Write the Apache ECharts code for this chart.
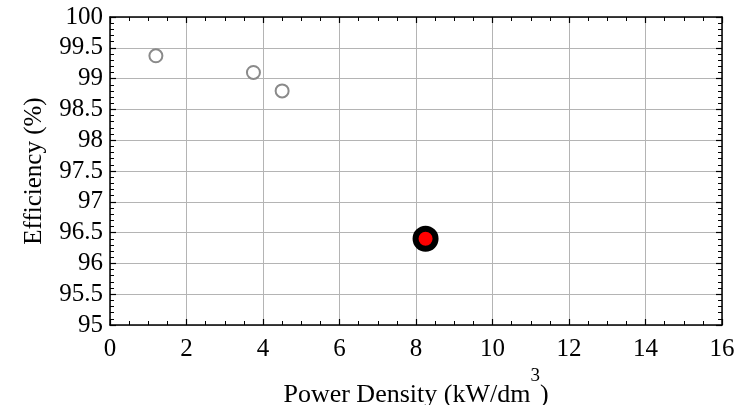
<!DOCTYPE html>
<html>
<head>
<meta charset="utf-8">
<script src="https://cdn.jsdelivr.net/npm/echarts@6/dist/echarts.min.js"></script>
<style>
  html, body { margin: 0; padding: 0; background: #fff; }
  #chart { width: 752px; height: 405px; }
</style>
</head>
<body>
<div id="chart"></div>
<script>
// Efficiency vs. power density of converter designs
const otherDesigns = [[1.2, 99.37], [3.75, 99.1], [4.5, 98.8]];
const thisDesign = [[8.25, 96.4]];
const xTicks = [0, 2, 4, 6, 8, 10, 12, 14, 16];
const yTicks = [95, 95.5, 96, 96.5, 97, 97.5, 98, 98.5, 99, 99.5, 100];

const FONT = '"Liberation Serif", "Times New Roman", serif';
const axisBase = {
  axisLine: { show: true, onZero: false, lineStyle: { color: '#000', width: 1.5 } },
  axisTick: { show: true, inside: true, length: 6, lineStyle: { color: '#000', width: 1.2 } },
  minorTick: { show: true, length: 4, lineStyle: { color: '#000', width: 1 } },
  splitLine: { show: true, lineStyle: { color: '#b4b4b4', width: 1 } },
  axisLabel: { color: '#000', fontFamily: FONT, fontSize: 25 }
};

const chart = echarts.init(document.getElementById('chart'), null, { renderer: 'canvas' });
chart.setOption({
  animation: false,
  grid: { left: 110, right: 30, top: 17, bottom: 80, containLabel: false, outerBoundsMode: 'none' },
  xAxis: [
    Object.assign({}, axisBase, {
      type: 'value', min: xTicks[0], max: xTicks[xTicks.length - 1], interval: 2,
      minorTick: Object.assign({}, axisBase.minorTick, { splitNumber: 4 }),
      axisLabel: Object.assign({}, axisBase.axisLabel, { margin: 12 }),
      name: '{t|Power Density (kW/dm}{s|3}{t|)}',
      nameLocation: 'middle', nameGap: 39,
      nameTextStyle: {
        rich: {
          t: { fontFamily: FONT, fontSize: 26, color: '#000', verticalAlign: 'bottom', lineHeight: 41 },
          s: { fontFamily: FONT, fontSize: 19, color: '#000', verticalAlign: 'top', lineHeight: 19 }
        }
      }
    }),
    Object.assign({}, axisBase, {
      type: 'value', position: 'top', min: xTicks[0], max: xTicks[xTicks.length - 1], interval: 2,
      minorTick: Object.assign({}, axisBase.minorTick, { splitNumber: 4 }),
      axisLabel: { show: false }, splitLine: { show: false }
    })
  ],
  yAxis: [
    Object.assign({}, axisBase, {
      type: 'value', min: yTicks[0], max: yTicks[yTicks.length - 1], interval: 0.5,
      minorTick: Object.assign({}, axisBase.minorTick, { splitNumber: 5 }),
      axisLabel: Object.assign({}, axisBase.axisLabel, { margin: 7 }),
      name: 'Efficiency (%)',
      nameLocation: 'middle', nameGap: 63,
      nameTextStyle: { fontFamily: FONT, fontSize: 25, color: '#000' }
    }),
    Object.assign({}, axisBase, {
      type: 'value', position: 'right', min: yTicks[0], max: yTicks[yTicks.length - 1], interval: 0.5,
      minorTick: Object.assign({}, axisBase.minorTick, { splitNumber: 5 }),
      axisLabel: { show: false }, splitLine: { show: false }
    })
  ],
  series: [
    {
      type: 'scatter', xAxisIndex: 0, yAxisIndex: 0,
      data: otherDesigns, symbol: 'circle', symbolSize: 13,
      itemStyle: { color: '#fff', borderColor: '#8a8a8a', borderWidth: 2, opacity: 1 }
    },
    {
      type: 'scatter', xAxisIndex: 0, yAxisIndex: 0,
      data: thisDesign, symbol: 'circle', symbolSize: 20,
      itemStyle: { color: '#ff0000', borderColor: '#000', borderWidth: 6, opacity: 1 }
    }
  ]
});
</script>
</body>
</html>
